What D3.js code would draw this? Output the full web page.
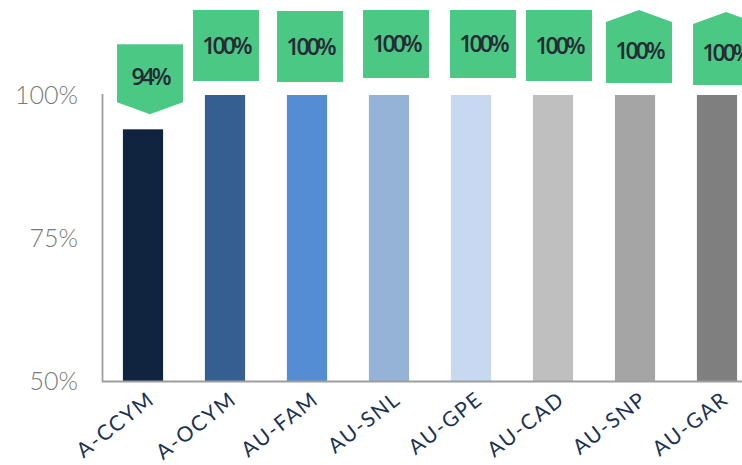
<!DOCTYPE html>
<html><head><meta charset="utf-8">
<script src="https://cdn.jsdelivr.net/npm/d3@7"></script>
<style>html,body{margin:0;padding:0;background:#fff;overflow:hidden}</style>
</head><body>
<svg id="c" width="742" height="465"></svg>
<script>
const categories = ["A-CCYM","A-OCYM","AU-FAM","AU-SNL","AU-GPE","AU-CAD","AU-SNP","AU-GAR"];
const values = [0.94,1.00,1.00,1.00,1.00,1.00,1.00,1.00];
const valueLabels = ["94%","100%","100%","100%","100%","100%","100%","100%"];
const yTicks = [0.5,0.75,1.0];
const barColors = ["#10243f","#355f91","#548dd4","#95b3d7","#c6d9f0","#bfbfbf","#a5a5a5","#7f7f7f"];
// callout layout: shape, dx from bar centre, gap above bar top, height
const calloutLayout = [
  {shape:"down", dx:7,  gap:15, h:70},
  {shape:"rect", dx:1,  gap:14, h:71},
  {shape:"rect", dx:3,  gap:13, h:71},
  {shape:"rect", dx:7,  gap:17, h:68},
  {shape:"rect", dx:12, gap:17, h:68},
  {shape:"rect", dx:6,  gap:14, h:71},
  {shape:"up",   dx:4,  gap:12, h:73},
  {shape:"up",   dx:9,  gap:10, h:73}
];

const svg = d3.select("#c");
const x = d3.scaleBand().domain(categories).range([102, 758]).paddingInner(0.51).paddingOuter(0.255);
const y = d3.scaleLinear().domain([0.5, 1.0]).range([381, 95]);

// bars
svg.append("g").selectAll("rect").data(categories).join("rect")
  .attr("x", d => x(d))
  .attr("y", (d,i) => y(values[i]))
  .attr("width", x.bandwidth())
  .attr("height", (d,i) => y(0.5) - y(values[i]))
  .attr("fill", (d,i) => barColors[i]);

// axes
const axisColor = "#9d9d9d";
svg.append("line").attr("x1",102.5).attr("x2",102.5).attr("y1",y(1)-1).attr("y2",y(0.5)+1)
  .attr("stroke",axisColor).attr("stroke-width",1.8);
svg.append("line").attr("x1",102).attr("x2",742).attr("y1",y(0.5)+0.5).attr("y2",y(0.5)+0.5)
  .attr("stroke",axisColor).attr("stroke-width",1.8);

// y tick labels
svg.append("g").selectAll("text").data(yTicks).join("text")
  .attr("x", 78).attr("y", d => y(d)).attr("dy","0.36em")
  .attr("text-anchor","end")
  .attr("font-family","Lato, 'Open Sans', sans-serif").attr("font-weight",300)
  .attr("font-size",25).attr("fill","#7a7a7a")
  .text(d3.format(".0%"));

// x labels
svg.append("g").selectAll("text").data(categories).join("text")
  .attr("transform", d => `translate(${x(d)+x.bandwidth()/2+13},${402}) rotate(-38)`)
  .attr("text-anchor","end")
  .attr("font-family","Lato, 'Open Sans', sans-serif")
  .attr("font-size",21).attr("letter-spacing","1.6px").attr("fill","#1c3252")
  .text(d => d);

// callouts
const W = 66, P = 12;
const g = svg.append("g");
categories.forEach((c,i) => {
  const L = calloutLayout[i];
  const cx = x(c) + x.bandwidth()/2 + L.dx;
  const bottom = y(values[i]) - L.gap;
  const top = bottom - L.h;
  const l = cx - W/2, r = cx + W/2;
  let pts, ty;
  if (L.shape === "down") {
    pts = [[l,top],[r,top],[r,bottom-P],[cx,bottom],[l,bottom-P]];
    ty = (top + bottom - P)/2 + 3;
  } else if (L.shape === "up") {
    pts = [[cx,top],[r,top+P],[r,bottom],[l,bottom],[l,top+P]];
    ty = (top + P + bottom)/2 - 1.5;
  } else {
    pts = [[l,top],[r,top],[r,bottom],[l,bottom]];
    ty = (top + bottom)/2;
  }
  g.append("polygon").attr("points", pts.map(p=>p.join(",")).join(" ")).attr("fill","#4bc884");
  g.append("text").attr("x", cx).attr("y", ty).attr("dy","0.36em")
    .attr("text-anchor","middle")
    .attr("font-family","'Open Sans', Lato, sans-serif").attr("font-weight",600)
    .attr("font-size",23).attr("letter-spacing","-3px").attr("fill","#262b35")
    .text(valueLabels[i]);
});
</script>
</body></html>
